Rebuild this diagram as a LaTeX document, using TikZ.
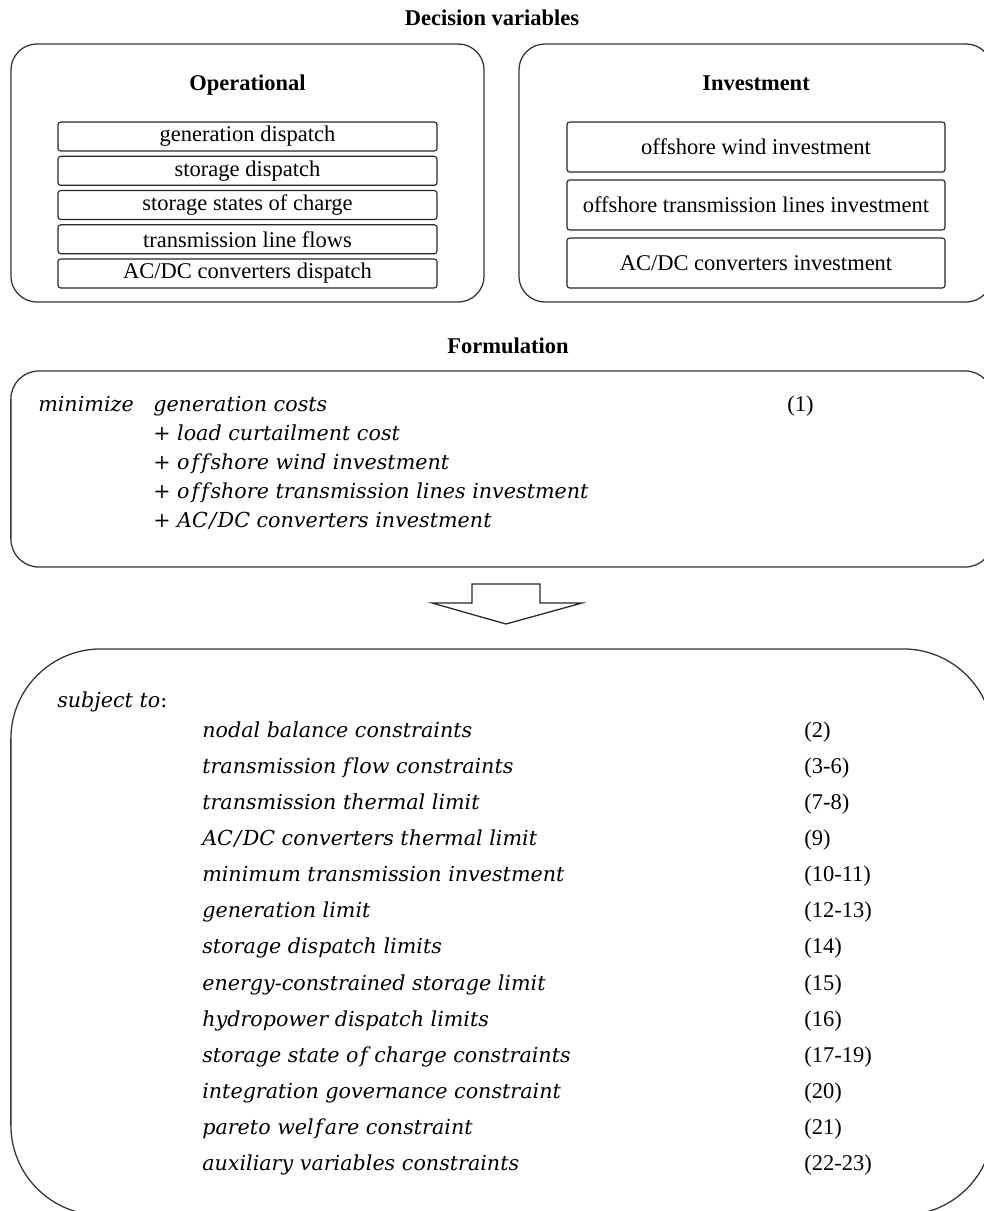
\documentclass[tikz,border=0pt]{standalone}
\usepackage{fontspec}
\setmainfont{Liberation Serif}
\newfontfamily\eqfont{DejaVu Serif}
\usepackage{tikz}

\begin{document}
\begin{tikzpicture}[x=0.025cm, y=-0.025cm,
	outer/.style={draw=black!80, line width=0.9pt, rounded corners=0.65cm, inner sep=0pt},
	title/.style={anchor=base, inner sep=0pt, font=\fontsize{16}{19}\selectfont\bfseries},
	opitem/.style={draw=black!85, line width=0.8pt, rounded corners=2pt, inner sep=0pt, minimum width=9.475cm, minimum height=0.725cm, font=\fontsize{16}{19}\selectfont},
	invitem/.style={opitem, minimum width=9.45cm, minimum height=1.25cm},
	eq/.style={anchor=base west, inner sep=0pt, font=\eqfont\itshape\fontsize{14.7}{17}\selectfont},
	eqref/.style={anchor=base west, inner sep=0pt, font=\fontsize{16}{19}\selectfont}]
	
	\useasboundingbox (0,0) rectangle (984,1211);
	
	% decision variables
	\node[title] (dv) at (492, 25) {Decision variables};
	
	\node[outer, minimum width=11.825cm, minimum height=6.45cm] (opbox) at (247.5, 173) {};
	\node[title] (op) at (247.5, 90) {Operational};
	\node[opitem] (op1) at (247.5, 136.5) {generation dispatch};
	\node[opitem] (op2) at (247.5, 170.8) {storage dispatch};
	\node[opitem] (op3) at (247.5, 205)   {storage states of charge};
	\node[opitem] (op4) at (247.5, 239.3) {transmission line flows};
	\node[opitem] (op5) at (247.5, 273.5) {AC/DC converters dispatch};
	
	\node[outer, minimum width=11.825cm, minimum height=6.45cm] (invbox) at (755.5, 173) {};
	\node[title] (inv) at (756, 90) {Investment};
	\node[invitem] (inv1) at (756, 147) {offshore wind investment};
	\node[invitem] (inv2) at (756, 205) {offshore transmission lines investment};
	\node[invitem] (inv3) at (756, 263) {AC/DC converters investment};
	
	% objective
	\node[title] (form) at (508, 353) {Formulation};
	\node[outer, rounded corners=0.7cm, minimum width=24.55cm, minimum height=4.9cm] (formbox) at (502, 469) {};
	
	\node[eq] (minz)  at (38, 411)  {minimize};
	\node[eq] (cost0) at (153, 411) {generation costs};
	\node[eq] (cost1) at (153, 440) {{\upshape+} load curtailment cost};
	\node[eq] (cost2) at (153, 469) {{\upshape+} o\kern1.5pt f\kern1.5pt f\kern1pt shore wind investment};
	\node[eq] (cost3) at (153, 498) {{\upshape+} o\kern1.5pt f\kern1.5pt f\kern1pt shore transmission lines investment};
	\node[eq] (cost4) at (153, 527) {{\upshape+} AC\kern1pt/\kern1pt DC converters investment};
	\node[eqref] (eq1) at (787, 411) {(1)};
	
	% block arrow
	\draw[draw=black!85, line width=0.9pt, line join=miter] (472,584) -- (540,584) -- (540,603) -- (582,603)
		-- (506,624) -- (432,603) -- (472,603) -- cycle;
	
	% constraints
	\node[outer, rounded corners=2.25cm, minimum width=24.55cm, minimum height=14.15cm] (stbox) at (502, 932) {};
	
	\node[eq] (subj) at (57, 707) {subject to{\upshape:}};
	
	\node[eq] (c1)  at (202, 737)  {nodal balance constraints};
	\node[eq] (c2)  at (202, 773)  {transmission f\kern1.5pt low constraints};
	\node[eq] (c3)  at (202, 809)  {transmission thermal limit};
	\node[eq] (c4)  at (202, 845)  {AC\kern1pt/\kern1pt DC converters thermal limit};
	\node[eq] (c5)  at (202, 881)  {minimum transmission investment};
	\node[eq] (c6)  at (202, 917)  {generation limit};
	\node[eq] (c7)  at (202, 953)  {storage dispatch limits};
	\node[eq] (c8)  at (202, 990)  {energy-constrained storage limit};
	\node[eq] (c9)  at (202, 1026) {hydropower dispatch limits};
	\node[eq] (c10) at (202, 1062) {storage state o\kern1pt f charge constraints};
	\node[eq] (c11) at (202, 1098) {integration governance constraint};
	\node[eq] (c12) at (202, 1134) {pareto wel\kern1pt f\kern1.5pt are constraint};
	\node[eq] (c13) at (202, 1170) {auxiliary variables constraints};
	
	\node[eqref] (n1)  at (804, 737)  {(2)};
	\node[eqref] (n2)  at (804, 773)  {(3-6)};
	\node[eqref] (n3)  at (804, 809)  {(7-8)};
	\node[eqref] (n4)  at (804, 845)  {(9)};
	\node[eqref] (n5)  at (804, 881)  {(10-11)};
	\node[eqref] (n6)  at (804, 917)  {(12-13)};
	\node[eqref] (n7)  at (804, 953)  {(14)};
	\node[eqref] (n8)  at (804, 990)  {(15)};
	\node[eqref] (n9)  at (804, 1026) {(16)};
	\node[eqref] (n10) at (804, 1062) {(17-19)};
	\node[eqref] (n11) at (804, 1098) {(20)};
	\node[eqref] (n12) at (804, 1134) {(21)};
	\node[eqref] (n13) at (804, 1170) {(22-23)};
	
\end{tikzpicture}
\end{document}
